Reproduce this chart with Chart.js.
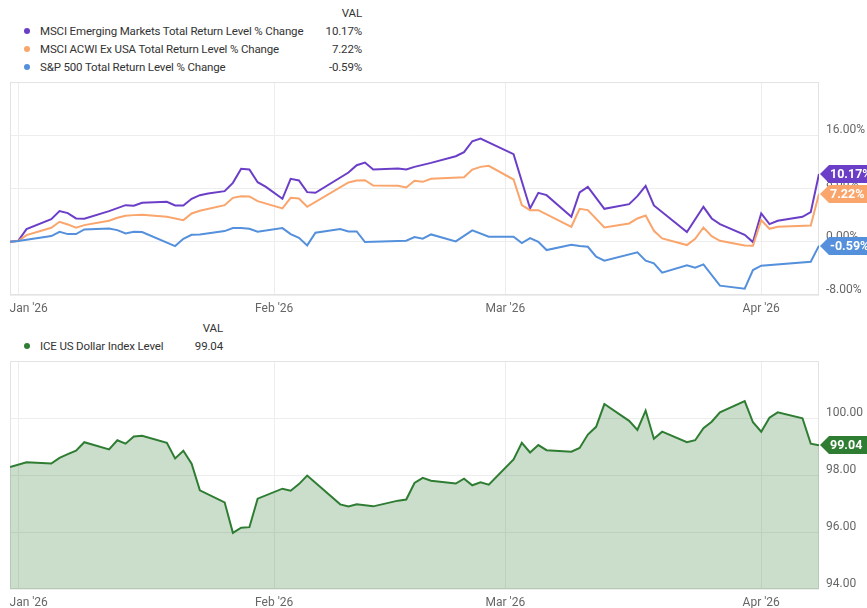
<!DOCTYPE html>
<html>
<head>
<meta charset="utf-8">
<script src="https://cdn.jsdelivr.net/npm/chart.js@4.4.1/dist/chart.umd.min.js"></script>
<style>
  body { margin: 0; background: #fff; font-family: Roboto, sans-serif; }
  #page { position: relative; width: 867px; height: 608px; overflow: hidden; }
  canvas { position: absolute; left: 0; }
  .txt { position: absolute; font-size: 11.5px; letter-spacing: -0.15px; line-height: 16px; color: #333; white-space: nowrap; }
  .val { text-align: right; }
  .dot { position: absolute; width: 6px; height: 6px; border-radius: 50%; }
</style>
</head>
<body>
<div id="page">
  <div class="txt val" style="left:300px;width:62px;top:5px">VAL</div>
  <span class="dot" style="left:24px;top:28px;background:#6b3ec8"></span>
  <div class="txt" style="left:40px;top:23px">MSCI Emerging Markets Total Return Level % Change</div>
  <div class="txt val" style="left:300px;width:62px;top:23px">10.17%</div>
  <span class="dot" style="left:24px;top:46px;background:#f9a56c"></span>
  <div class="txt" style="left:40px;top:41px">MSCI ACWI Ex USA Total Return Level % Change</div>
  <div class="txt val" style="left:300px;width:62px;top:41px">7.22%</div>
  <span class="dot" style="left:24px;top:64px;background:#5490db"></span>
  <div class="txt" style="left:40px;top:59px">S&amp;P 500 Total Return Level % Change</div>
  <div class="txt val" style="left:300px;width:62px;top:59px">-0.59%</div>

  <div class="txt val" style="left:160px;width:63px;top:320px">VAL</div>
  <span class="dot" style="left:24px;top:343px;background:#2e7d32"></span>
  <div class="txt" style="left:40px;top:338px">ICE US Dollar Index Level</div>
  <div class="txt val" style="left:160px;width:63px;top:338px">99.04</div>

  <canvas id="returns" width="867" height="246" style="top:74px"></canvas>
  <canvas id="dollar" width="867" height="254" style="top:354px"></canvas>
</div>
<script>
// days counted from Jan 1 2026
const monthTicks = [0, 31, 59, 90];
const monthLabels = ["Jan '26", "Feb '26", "Mar '26", "Apr '26"];
const returnTicks = [-8, 0, 8, 16, 24];
const dollarTicks = [94, 96, 98, 100, 102];

const emDays = [-1, 0, 1, 4, 5, 6, 7, 8, 11, 13, 14, 15, 18, 19, 20, 21, 22, 23, 25, 26, 27, 28, 29, 30, 32, 33, 34, 35, 36, 40, 41, 42, 43, 46, 47, 48, 50, 53, 54, 55, 56, 60, 62, 63, 64, 67, 68, 69, 71, 74, 75, 76, 77, 81, 83, 84, 85, 88, 89, 90, 91, 92, 95, 96, 97];
const emValues = [0, 0.15, 1.9, 3.4, 4.6, 4.3, 3.5, 3.45, 4.6, 5.5, 5.4, 5.85, 6.0, 5.45, 5.45, 6.45, 7.0, 7.25, 7.6, 8.85, 10.95, 10.85, 8.95, 8.25, 6.45, 9.45, 9.2, 7.45, 7.35, 10.4, 11.5, 11.9, 10.85, 11.0, 10.85, 11.25, 11.85, 12.85, 13.45, 15.1, 15.5, 13.15, 5.0, 7.35, 7.0, 3.75, 7.4, 8.25, 4.95, 5.65, 6.85, 8.4, 5.45, 1.45, 5.25, 3.5, 2.65, 1.05, -0.05, 4.25, 2.65, 3.15, 3.75, 4.45, 10.17];

const acwiDays = [-1, 0, 1, 4, 5, 6, 7, 8, 11, 12, 13, 14, 15, 18, 20, 21, 22, 25, 26, 27, 28, 29, 32, 33, 34, 35, 40, 41, 42, 43, 46, 47, 48, 49, 50, 54, 55, 56, 57, 60, 61, 62, 63, 67, 68, 69, 71, 74, 75, 76, 77, 78, 81, 82, 83, 84, 85, 88, 89, 90, 91, 92, 96, 97];
const acwiValues = [0, 0.1, 1.0, 2.1, 3.0, 2.6, 2.1, 2.5, 3.15, 3.6, 3.9, 4.0, 4.05, 3.75, 3.25, 4.25, 4.65, 5.5, 6.6, 6.85, 6.8, 6.1, 5.0, 6.6, 6.5, 5.25, 8.9, 9.2, 9.25, 8.45, 8.4, 8.15, 9.15, 9.0, 9.45, 9.7, 10.85, 11.25, 11.4, 9.35, 5.5, 4.75, 4.75, 2.25, 4.95, 4.75, 2.15, 2.75, 3.5, 3.95, 1.65, 0.5, -0.5, 0.45, 2.15, 0.85, 0.15, -0.55, -0.6, 3.25, 1.95, 2.25, 2.45, 7.22];

const spxDays = [-1, 0, 4, 5, 6, 7, 8, 11, 12, 13, 14, 15, 19, 20, 21, 22, 25, 26, 27, 28, 29, 32, 33, 34, 35, 36, 39, 40, 41, 42, 47, 48, 49, 50, 53, 55, 57, 60, 61, 62, 63, 64, 67, 68, 69, 70, 71, 75, 76, 77, 78, 81, 82, 83, 85, 88, 89, 90, 96, 97];
const spxValues = [0, 0.1, 0.85, 1.5, 1.15, 1.15, 1.85, 2.0, 1.75, 1.25, 1.5, 1.45, -0.65, 0.45, 1.05, 1.1, 1.6, 2.05, 2.05, 1.95, 1.5, 2.05, 1.15, 0.6, -0.55, 1.35, 1.9, 1.55, 1.55, -0.05, 0.15, 0.7, 0.45, 1.1, 0.05, 1.7, 0.75, 0.75, -0.2, 0.55, 0.0, -1.25, -0.45, -0.65, -0.75, -2.25, -2.85, -1.6, -2.85, -3.25, -4.65, -3.55, -3.9, -3.4, -6.6, -7.05, -4.25, -3.6, -3.0, -0.59];

const dxyDays = [-1, 1, 4, 5, 6, 7, 8, 11, 12, 13, 14, 15, 18, 19, 20, 21, 22, 25, 26, 27, 28, 29, 32, 33, 34, 35, 39, 40, 41, 43, 46, 47, 48, 49, 50, 53, 54, 55, 56, 57, 60, 61, 62, 63, 64, 67, 68, 69, 70, 71, 74, 75, 76, 77, 78, 81, 82, 83, 84, 85, 88, 89, 90, 91, 92, 95, 96, 97];
const dxyValues = [98.28, 98.45, 98.4, 98.6, 98.73, 98.85, 99.15, 98.9, 99.22, 99.1, 99.35, 99.38, 99.13, 98.58, 98.85, 98.4, 97.46, 97.04, 95.97, 96.15, 96.17, 97.17, 97.52, 97.45, 97.68, 97.98, 96.97, 96.9, 96.97, 96.9, 97.1, 97.14, 97.72, 97.9, 97.8, 97.7, 97.87, 97.64, 97.74, 97.66, 98.55, 99.13, 98.79, 99.05, 98.87, 98.82, 98.95, 99.42, 99.69, 100.49, 99.9, 99.58, 100.26, 99.27, 99.52, 99.15, 99.22, 99.64, 99.87, 100.2, 100.59, 99.85, 99.52, 100.01, 100.2, 99.99, 99.1, 99.04];

const toPoints = (days, values) => days.map((d, i) => ({ x: d, y: values[i] }));

const gridColor = '#ededed';
const frameColor = '#e3e3e3';
const tickFont = { family: 'Roboto', size: 12 };

// light frame around the plot area
const framePlugin = {
    id: 'frame',
    beforeDatasetsDraw(chart) {
        const { ctx, chartArea } = chart;
        ctx.save();
        ctx.strokeStyle = frameColor;
        ctx.lineWidth = 1;
        ctx.strokeRect(chartArea.left + 0.5, chartArea.top + 0.5, chartArea.width - 1, chartArea.height - 1);
        ctx.restore();
    },
};

// value tags on the right axis at each series' last value
const badgePlugin = {
    id: 'badges',
    afterDraw(chart) {
        const { ctx, chartArea } = chart;
        const yScale = chart.scales.y;
        chart.data.datasets.forEach((ds) => {
            const last = ds.data[ds.data.length - 1].y;
            const y = Math.round(yScale.getPixelForValue(last));
            const x = chartArea.right + 1;
            ctx.save();
            ctx.fillStyle = ds.borderColor;
            ctx.beginPath();
            ctx.moveTo(x, y);
            ctx.lineTo(x + 9, y - 9);
            ctx.lineTo(chart.width, y - 9);
            ctx.lineTo(chart.width, y + 9);
            ctx.lineTo(x + 9, y + 9);
            ctx.closePath();
            ctx.fill();
            ctx.fillStyle = '#fff';
            ctx.font = 'bold 12.5px Roboto';
            ctx.textBaseline = 'middle';
            ctx.fillText(ds.badge, x + 10, y + 1);
            ctx.restore();
        });
    },
};

// the first month label sits inside the plot's left edge, so pad it to the right
const monthLabel = (v) => {
    const i = monthTicks.indexOf(v);
    return i === 0 ? '       ' + monthLabels[i] : monthLabels[i];
};

const xAxis = (height) => ({
    type: 'linear',
    min: -1,
    max: 97,
    afterBuildTicks: (scale) => { scale.ticks = monthTicks.map((v) => ({ value: v })); },
    afterFit: (scale) => {
        scale.height = height;
        scale.paddingLeft = 0;
        scale.paddingRight = 0;
    },
    grid: { color: gridColor, drawTicks: false },
    border: { display: false },
    ticks: {
        padding: 7,
        color: '#666',
        font: tickFont,
        maxRotation: 0,
        autoSkip: false,
        callback: monthLabel,
    },
});

const yAxis = (tickValues, format) => ({
    position: 'right',
    min: tickValues[0],
    max: tickValues[tickValues.length - 1],
    afterBuildTicks: (scale) => { scale.ticks = tickValues.map((v) => ({ value: v })); },
    afterFit: (scale) => {
        scale.width = 48;
        scale.paddingTop = 0;
        scale.paddingBottom = 0;
    },
    grid: { color: gridColor, drawTicks: false },
    border: { display: false },
    ticks: {
        padding: 7,
        labelOffset: -5,
        color: '#666',
        font: tickFont,
        callback: (v) => (v === tickValues[tickValues.length - 1] ? '' : format(v)),
    },
});

const baseOptions = (top, xHeight, yScaleOptions) => ({
    responsive: false,
    animation: false,
    layout: { padding: { left: 10, top: top, right: 0, bottom: 0 } },
    plugins: { legend: { display: false }, tooltip: { enabled: false } },
    elements: { point: { radius: 0 }, line: { tension: 0, borderWidth: 2 } },
    scales: { x: xAxis(xHeight), y: yScaleOptions },
});

new Chart(document.querySelector('#returns'), {
    type: 'line',
    data: {
        datasets: [
            { data: toPoints(spxDays, spxValues), borderColor: '#5490db', badge: '-0.59%' },
            { data: toPoints(acwiDays, acwiValues), borderColor: '#f9a56c', badge: '7.22%' },
            { data: toPoints(emDays, emValues), borderColor: '#6b3ec8', badge: '10.17%' },
        ],
    },
    options: baseOptions(8, 25, yAxis(returnTicks, (v) => v.toFixed(2) + '%')),
    plugins: [framePlugin, badgePlugin],
});

new Chart(document.querySelector('#dollar'), {
    type: 'line',
    data: {
        datasets: [
            {
                data: toPoints(dxyDays, dxyValues),
                borderColor: '#2e7d32',
                backgroundColor: 'rgba(46, 125, 50, 0.25)',
                fill: 'start',
                badge: '99.04',
            },
        ],
    },
    options: baseOptions(7, 19, yAxis(dollarTicks, (v) => v.toFixed(2))),
    plugins: [framePlugin, badgePlugin],
});
</script>
</body>
</html>
